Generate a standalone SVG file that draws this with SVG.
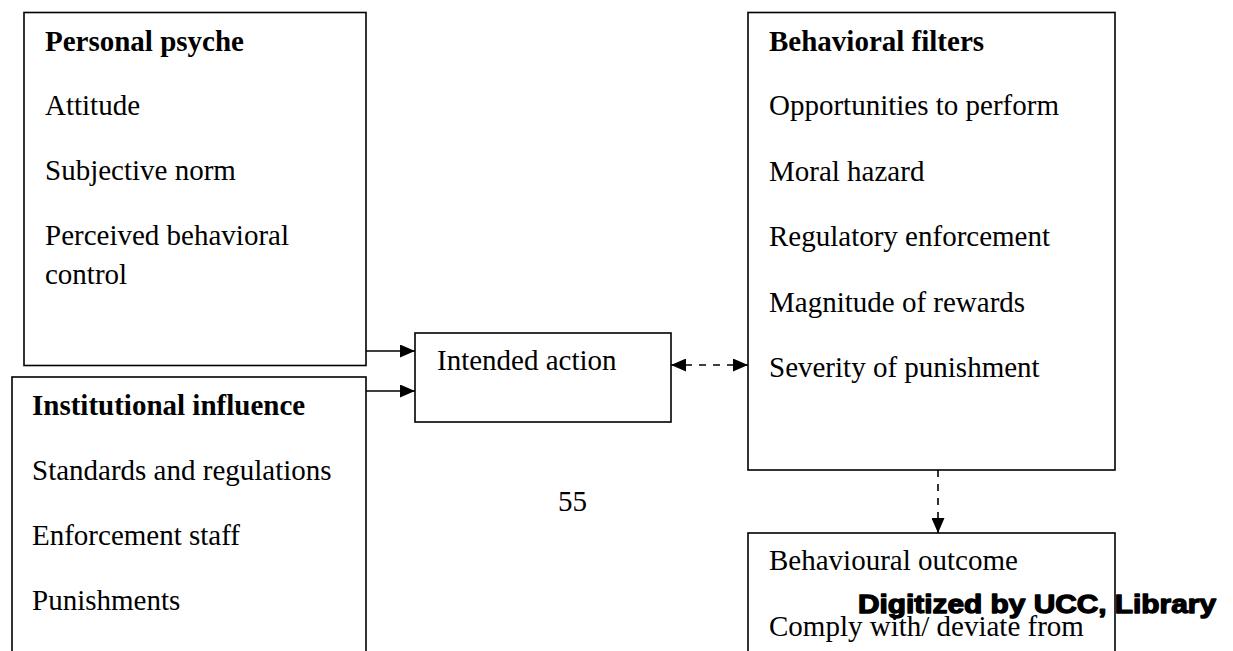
<svg xmlns="http://www.w3.org/2000/svg" width="1233" height="651" viewBox="0 0 1233 651">
<style>
.box{fill:#fff;stroke:#000;stroke-width:1.6}
.t{font-family:"Liberation Serif","Times New Roman",serif;font-size:29px;fill:#000}
.b{font-weight:bold}
.c{stroke:#000;stroke-width:1.6;fill:none}
.d{stroke-dasharray:7,7}
.wm{font-family:"Liberation Sans",Arial,sans-serif;font-weight:900;font-size:26px;fill:#000;stroke:#000;stroke-width:1.3;stroke-linejoin:round}
</style>
<defs>
<marker id="ah" viewBox="0 0 10 10" refX="10" refY="5" markerWidth="15" markerHeight="13" markerUnits="userSpaceOnUse" orient="auto-start-reverse" preserveAspectRatio="none">
<path d="M0,0 L10,5 L0,10 Z" fill="#000"/>
</marker>
</defs>
<rect width="1233" height="651" fill="#fff"/>
<g id="personal-psyche">
<rect class="box" x="24" y="12.5" width="342" height="353"/>
<text class="t b" x="45" y="51">Personal psyche</text>
<text class="t" x="45" y="115">Attitude</text>
<text class="t" x="45" y="180">Subjective norm</text>
<text class="t" x="45" y="245">Perceived behavioral</text>
<text class="t" x="45" y="284">control</text>
</g>
<g id="institutional-influence">
<rect class="box" x="12" y="377" width="354" height="290"/>
<text class="t b" x="32" y="415">Institutional influence</text>
<text class="t" x="32" y="480">Standards and regulations</text>
<text class="t" x="32" y="545">Enforcement staff</text>
<text class="t" x="32" y="610">Punishments</text>
</g>
<g id="intended-action">
<rect class="box" x="415" y="333" width="256" height="89"/>
<text class="t" x="437" y="370">Intended action</text>
</g>
<g id="behavioral-filters">
<rect class="box" x="748" y="12.5" width="367" height="457.5"/>
<text class="t b" x="769" y="51">Behavioral filters</text>
<text class="t" x="769" y="115">Opportunities to perform</text>
<text class="t" x="769" y="181">Moral hazard</text>
<text class="t" x="769" y="246">Regulatory enforcement</text>
<text class="t" x="769" y="312">Magnitude of rewards</text>
<text class="t" x="769" y="377">Severity of punishment</text>
</g>
<g id="behavioural-outcome">
<rect class="box" x="748" y="533" width="367" height="140"/>
<text class="t" x="769" y="570">Behavioural outcome</text>
<text class="t" x="769" y="636">Comply with/ deviate from</text>
</g>
<g id="connectors">
<line class="c" x1="366" y1="351" x2="415" y2="351" marker-end="url(#ah)"/>
<line class="c" x1="366" y1="391" x2="415" y2="391" marker-end="url(#ah)"/>
<line class="c d" x1="671" y1="365" x2="748" y2="365" marker-start="url(#ah)" marker-end="url(#ah)"/>
<line class="c d" x1="938" y1="470" x2="938" y2="533" marker-end="url(#ah)"/>
</g>
<text class="t" x="558" y="511">55</text>
<text class="wm" x="858" y="613" textLength="358" lengthAdjust="spacingAndGlyphs">Digitized by UCC, Library</text>
</svg>
